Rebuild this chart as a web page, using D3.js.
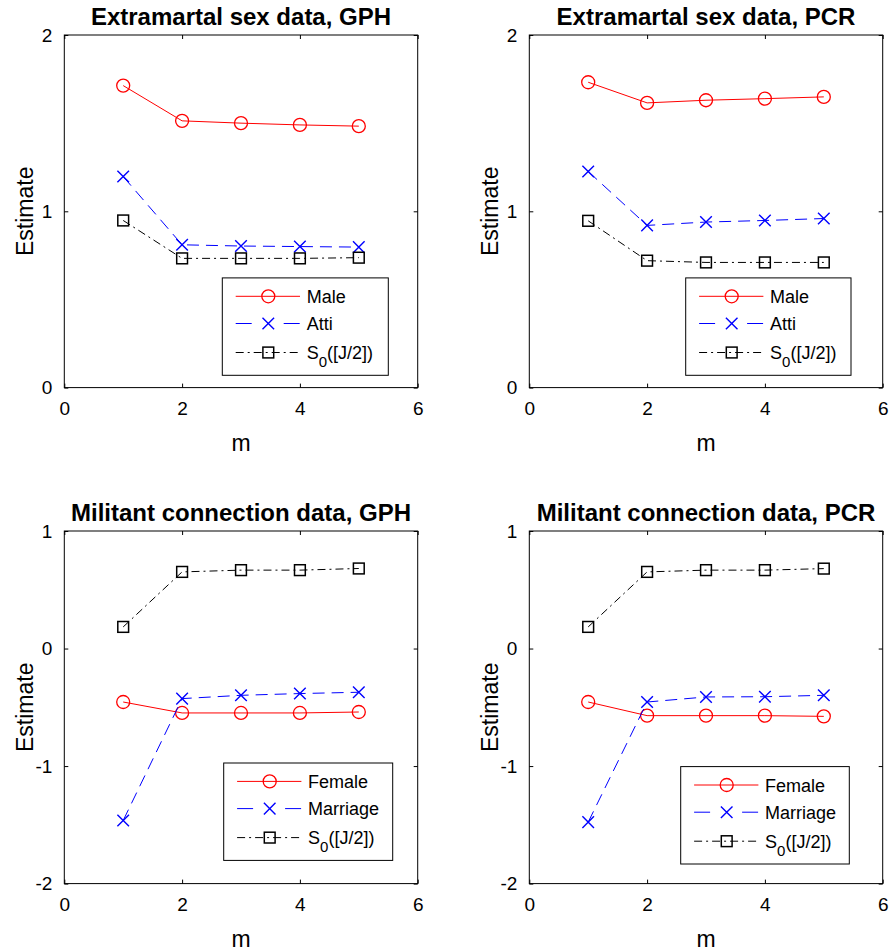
<!DOCTYPE html>
<html>
<head>
<meta charset="utf-8">
<script src="https://cdn.jsdelivr.net/npm/d3@7"></script>
<style>
  body { margin: 0; background: #fff; }
  svg { font-family: "Liberation Sans", Arial, Helvetica, sans-serif; }
</style>
</head>
<body>
<script>
// m values on the x axis
var mValues = [1, 2, 3, 4, 5];

// Extramartal sex data
var extraGphMale = [1.713, 1.513, 1.500, 1.490, 1.483];
var extraGphAtti = [1.197, 0.810, 0.803, 0.800, 0.797];
var extraGphS0   = [0.948, 0.733, 0.733, 0.733, 0.737];

var extraPcrMale = [1.732, 1.615, 1.630, 1.639, 1.649];
var extraPcrAtti = [1.226, 0.920, 0.939, 0.948, 0.959];
var extraPcrS0   = [0.946, 0.720, 0.710, 0.710, 0.710];

// Militant connection data
var milGphFemale   = [-0.455, -0.548, -0.548, -0.548, -0.540];
var milGphMarriage = [-1.463, -0.426, -0.398, -0.383, -0.372];
var milGphS0       = [0.184, 0.652, 0.667, 0.667, 0.681];

var milPcrFemale   = [-0.455, -0.571, -0.571, -0.571, -0.577];
var milPcrMarriage = [-1.477, -0.455, -0.412, -0.410, -0.398];
var milPcrS0       = [0.184, 0.652, 0.667, 0.667, 0.680];

var xTicks = [0, 2, 4, 6];
var yTicksTop = [0, 1, 2];
var yTicksBottom = [-2, -1, 0, 1];

var titles = [
    "Extramartal sex data, GPH", "Extramartal sex data, PCR",
    "Militant connection data, GPH", "Militant connection data, PCR"
];

var styles = {
    solid:   {color: "#ff0000", dash: null,      legendDash: null,        marker: "circle"},
    dashed:  {color: "#0000ff", dash: "12,7",    legendDash: "16,32,16",  marker: "cross"},
    dashdot: {color: "#000000", dash: "8,4,2,4", legendDash: "8,4,2,4",   marker: "square"}
};

var panels = [
    {title: titles[0], left: 64.3, top: 35, yDomain: [0, 2], yTicks: yTicksTop,
     legend: {dx: -195.4, dy: -109.7, w: 166},
     series: [
        {name: "Male", values: extraGphMale, style: "solid"},
        {name: "Atti", values: extraGphAtti, style: "dashed"},
        {name: "S0", values: extraGphS0, style: "dashdot"}]},
    {title: titles[1], left: 529.3, top: 35, yDomain: [0, 2], yTicks: yTicksTop,
     legend: {dx: -197, dy: -109.7, w: 165.3},
     series: [
        {name: "Male", values: extraPcrMale, style: "solid"},
        {name: "Atti", values: extraPcrAtti, style: "dashed"},
        {name: "S0", values: extraPcrS0, style: "dashdot"}]},
    {title: titles[2], left: 64.3, top: 531, yDomain: [-2, 1], yTicks: yTicksBottom,
     legend: {dx: -194, dy: -120.6, w: 169},
     series: [
        {name: "Female", values: milGphFemale, style: "solid"},
        {name: "Marriage", values: milGphMarriage, style: "dashed"},
        {name: "S0", values: milGphS0, style: "dashdot"}]},
    {title: titles[3], left: 529.3, top: 531, yDomain: [-2, 1], yTicks: yTicksBottom,
     legend: {dx: -202, dy: -117, w: 168.6},
     series: [
        {name: "Female", values: milPcrFemale, style: "solid"},
        {name: "Marriage", values: milPcrMarriage, style: "dashed"},
        {name: "S0", values: milPcrS0, style: "dashdot"}]}
];

var W = 890, H = 951;
var plotW = 353.4, plotH = 352.6;
var tickLen = 4;
var plainNum = function(d) { return String(d); };   // hyphen minus like the original

var svg = d3.select("body").append("svg")
    .attr("width", W)
    .attr("height", H);

function drawMarker(g, kind, color, x, y) {
    if (kind === "circle") {
        g.append("circle")
            .attr("cx", x).attr("cy", y).attr("r", 6.5)
            .attr("fill", "none").attr("stroke", color).attr("stroke-width", 1.3);
    } else if (kind === "cross") {
        var s = 5.8;
        g.append("path")
            .attr("d", "M" + (x - s) + "," + (y - s) + "L" + (x + s) + "," + (y + s) +
                       "M" + (x - s) + "," + (y + s) + "L" + (x + s) + "," + (y - s))
            .attr("stroke", color).attr("stroke-width", 1.4).attr("fill", "none");
    } else {
        var h = 5.4;
        g.append("rect")
            .attr("x", x - h).attr("y", y - h).attr("width", 2 * h).attr("height", 2 * h)
            .attr("fill", "none").attr("stroke", color).attr("stroke-width", 1.5);
    }
}

function legendLabel(text, name, x, y) {
    var t = text.append("text")
        .attr("x", x).attr("y", y)
        .attr("font-size", 18).attr("fill", "#000");
    if (name === "S0") {
        t.append("tspan").text("S");
        t.append("tspan").attr("font-size", 15).attr("dy", 8).text("0");
        t.append("tspan").attr("dy", -8).text("([J/2])");
    } else {
        t.text(name);
    }
}

panels.forEach(function(p) {
    var x = d3.scaleLinear().domain([0, 6]).range([p.left, p.left + plotW]);
    var y = d3.scaleLinear().domain(p.yDomain).range([p.top + plotH, p.top]);
    var g = svg.append("g");

    // frame
    g.append("rect")
        .attr("x", p.left).attr("y", p.top)
        .attr("width", plotW).attr("height", plotH)
        .attr("fill", "none").attr("stroke", "#000").attr("stroke-width", 1);

    // ticks inside on all four sides
    var bottomAxis = d3.axisBottom(x).tickValues(xTicks).tickSizeInner(-tickLen)
        .tickSizeOuter(0).tickPadding(14).tickFormat(plainNum);
    var ax = g.append("g")
        .attr("transform", "translate(0," + (p.top + plotH) + ")")
        .call(bottomAxis);
    ax.select(".domain").remove();
    ax.selectAll("text").attr("font-size", 19).attr("font-family", null).attr("fill", "#000")
        .attr("dy", "0.71em");
    ax.selectAll("line").attr("stroke", "#000");

    var topAxis = d3.axisTop(x).tickValues(xTicks).tickSizeInner(-tickLen)
        .tickSizeOuter(0).tickFormat("");
    var at = g.append("g")
        .attr("transform", "translate(0," + p.top + ")")
        .call(topAxis);
    at.select(".domain").remove();
    at.selectAll("line").attr("stroke", "#000");

    var leftAxis = d3.axisLeft(y).tickValues(p.yTicks).tickSizeInner(-tickLen)
        .tickSizeOuter(0).tickPadding(12).tickFormat(plainNum);
    var ay = g.append("g")
        .attr("transform", "translate(" + p.left + ",0)")
        .call(leftAxis);
    ay.select(".domain").remove();
    ay.selectAll("text").attr("font-size", 19).attr("font-family", null).attr("fill", "#000");
    ay.selectAll("line").attr("stroke", "#000");

    var rightAxis = d3.axisRight(y).tickValues(p.yTicks).tickSizeInner(-tickLen)
        .tickSizeOuter(0).tickFormat("");
    var ar = g.append("g")
        .attr("transform", "translate(" + (p.left + plotW) + ",0)")
        .call(rightAxis);
    ar.select(".domain").remove();
    ar.selectAll("line").attr("stroke", "#000");

    // title
    g.append("text")
        .attr("x", p.left + plotW / 2).attr("y", p.top - 10)
        .attr("text-anchor", "middle")
        .attr("font-size", 24).attr("font-weight", "bold")
        .text(p.title);

    // axis labels
    g.append("text")
        .attr("x", p.left + plotW / 2).attr("y", p.top + plotH + 63)
        .attr("text-anchor", "middle").attr("font-size", 23)
        .text("m");
    g.append("text")
        .attr("transform", "translate(" + (p.left - 31) + "," + (p.top + plotH / 2) + ") rotate(-90)")
        .attr("text-anchor", "middle").attr("font-size", 23)
        .text("Estimate");

    // series
    var line = d3.line()
        .x(function(d, i) { return x(mValues[i]); })
        .y(function(d) { return y(d); });

    p.series.forEach(function(s) {
        var st = styles[s.style];
        g.append("path")
            .datum(s.values)
            .attr("d", line)
            .attr("fill", "none")
            .attr("stroke", st.color)
            .attr("stroke-width", 1)
            .attr("stroke-dasharray", st.dash);
        s.values.forEach(function(v, i) {
            drawMarker(g, st.marker, st.color, x(mValues[i]), y(v));
        });
    });

    // legend
    var lx = p.left + plotW + p.legend.dx;
    var ly = p.top + plotH + p.legend.dy;
    var lg = g.append("g");
    lg.append("rect")
        .attr("x", lx).attr("y", ly)
        .attr("width", p.legend.w).attr("height", 97.4)
        .attr("fill", "#fff").attr("stroke", "#000").attr("stroke-width", 1);
    var rowY = [18.4, 45.6, 74.6];
    p.series.forEach(function(s, i) {
        var st = styles[s.style];
        var ry = ly + rowY[i];
        lg.append("line")
            .attr("x1", lx + 13.4).attr("x2", lx + 77.7)
            .attr("y1", ry).attr("y2", ry)
            .attr("stroke", st.color).attr("stroke-width", 1)
            .attr("stroke-dasharray", st.legendDash);
        drawMarker(lg, st.marker, st.color, lx + 46, ry);
        legendLabel(lg, s.name, lx + 84.4, ry + 6.5);
    });
});
</script>
</body>
</html>
